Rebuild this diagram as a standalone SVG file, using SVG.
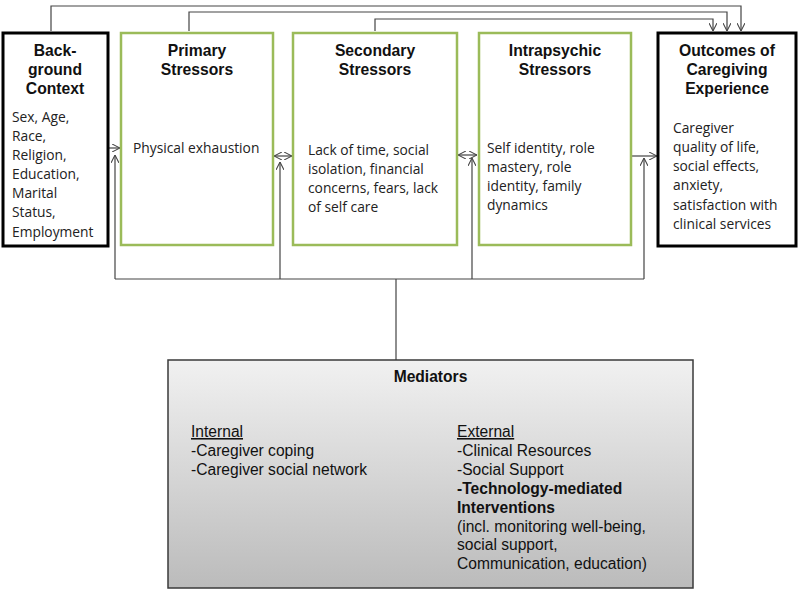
<svg xmlns="http://www.w3.org/2000/svg" width="800" height="593" viewBox="0 0 800 593">
<style>
.bk{fill:#fff;stroke:#000;stroke-width:3}
.gr{fill:#fff;stroke:#9bbb59;stroke-width:2.5}
.hd{font-family:"Liberation Sans",Arial,sans-serif;font-weight:bold;font-size:15.7px;fill:#111;text-anchor:middle}
.bd{font-family:"Open Sans","Noto Sans",sans-serif;font-size:13.8px;fill:#222}
.md{font-family:"Liberation Sans",Arial,sans-serif;font-size:15.6px;fill:#111}
.b{font-weight:bold}
.cn{fill:none;stroke:#444;stroke-width:1.2}
</style>
<defs>
<marker id="ah" viewBox="0 0 10 10" refX="10" refY="5" markerWidth="8" markerHeight="8" orient="auto-start-reverse" markerUnits="userSpaceOnUse">
<path d="M0,0 L10,5 L0,10" fill="none" stroke="#444" stroke-width="1.3"/>
</marker>
<linearGradient id="mg" x1="0" y1="0" x2="0" y2="1">
<stop offset="0" stop-color="#f1f1f1"/>
<stop offset="1" stop-color="#bbbbbb"/>
</linearGradient>
</defs>

<g id="connectors">
<path class="cn" d="M51,31 V6 H741 V31" marker-end="url(#ah)"/>
<path class="cn" d="M189,31 V12 H727 V31" marker-end="url(#ah)"/>
<path class="cn" d="M375,31 V19 H713 V31" marker-end="url(#ah)"/>
<path class="cn" d="M109,148 H120" marker-end="url(#ah)"/>
<path class="cn" d="M274,156 H292" marker-start="url(#ah)" marker-end="url(#ah)"/>
<path class="cn" d="M458,155 H477" marker-start="url(#ah)" marker-end="url(#ah)"/>
<path class="cn" d="M632,156 H657" marker-end="url(#ah)"/>
<path class="cn" d="M115,279 V155" marker-end="url(#ah)"/>
<path class="cn" d="M280,279 V162" marker-end="url(#ah)"/>
<path class="cn" d="M472,279 V158" marker-end="url(#ah)"/>
<path class="cn" d="M644,279 V158" marker-end="url(#ah)"/>
<path class="cn" d="M115,279 H644 M396,279 V360"/>
</g>

<g id="background">
<rect class="bk" x="3" y="33" width="105" height="213"/>
<text class="hd" x="55" y="56">Back-</text>
<text class="hd" x="55" y="75">ground</text>
<text class="hd" x="55" y="94">Context</text>
<text class="bd" x="12" y="122">Sex, Age,</text>
<text class="bd" x="12" y="141">Race,</text>
<text class="bd" x="12" y="160">Religion,</text>
<text class="bd" x="12" y="179">Education,</text>
<text class="bd" x="12" y="198">Marital</text>
<text class="bd" x="12" y="217">Status,</text>
<text class="bd" x="12" y="237">Employment</text>
</g>

<g id="primary">
<rect class="gr" x="121" y="33" width="152" height="212"/>
<text class="hd" x="197" y="56">Primary</text>
<text class="hd" x="197" y="75">Stressors</text>
<text class="bd" x="133" y="153">Physical exhaustion</text>
</g>

<g id="secondary">
<rect class="gr" x="293" y="33" width="164" height="212"/>
<text class="hd" x="375" y="56">Secondary</text>
<text class="hd" x="375" y="75">Stressors</text>
<text class="bd" x="308" y="155">Lack of time, social</text>
<text class="bd" x="308" y="174">isolation, financial</text>
<text class="bd" x="308" y="193">concerns, fears, lack</text>
<text class="bd" x="308" y="212">of self care</text>
</g>

<g id="intrapsychic">
<rect class="gr" x="479" y="33" width="152" height="212"/>
<text class="hd" x="555" y="56">Intrapsychic</text>
<text class="hd" x="555" y="75">Stressors</text>
<text class="bd" x="487" y="153">Self identity, role</text>
<text class="bd" x="487" y="172">mastery, role</text>
<text class="bd" x="487" y="191">identity, family</text>
<text class="bd" x="487" y="210">dynamics</text>
</g>

<g id="outcomes">
<rect class="bk" x="658" y="33" width="138" height="213"/>
<text class="hd" x="727" y="56">Outcomes of</text>
<text class="hd" x="727" y="75">Caregiving</text>
<text class="hd" x="727" y="94">Experience</text>
<text class="bd" x="673" y="133">Caregiver</text>
<text class="bd" x="673" y="152">quality of life,</text>
<text class="bd" x="673" y="171">social effects,</text>
<text class="bd" x="673" y="190">anxiety,</text>
<text class="bd" x="673" y="210">satisfaction with</text>
<text class="bd" x="673" y="229">clinical services</text>
</g>

<g id="mediators">
<rect x="168" y="360" width="525" height="228" fill="url(#mg)" stroke="#3a3a3a" stroke-width="1.5"/>
<text class="md b" x="430.5" y="382" text-anchor="middle">Mediators</text>
<text class="md" x="191" y="437" text-decoration="underline">Internal</text>
<text class="md" x="191" y="456">-Caregiver coping</text>
<text class="md" x="191" y="475">-Caregiver social network</text>
<text class="md" x="457" y="437" text-decoration="underline">External</text>
<text class="md" x="457" y="456">-Clinical Resources</text>
<text class="md" x="457" y="475">-Social Support</text>
<text class="md b" x="457" y="494">-Technology-mediated</text>
<text class="md b" x="457" y="513">Interventions</text>
<text class="md" x="457" y="532">(incl. monitoring well-being,</text>
<text class="md" x="457" y="550">social support,</text>
<text class="md" x="457" y="569">Communication, education)</text>
</g>
</svg>
